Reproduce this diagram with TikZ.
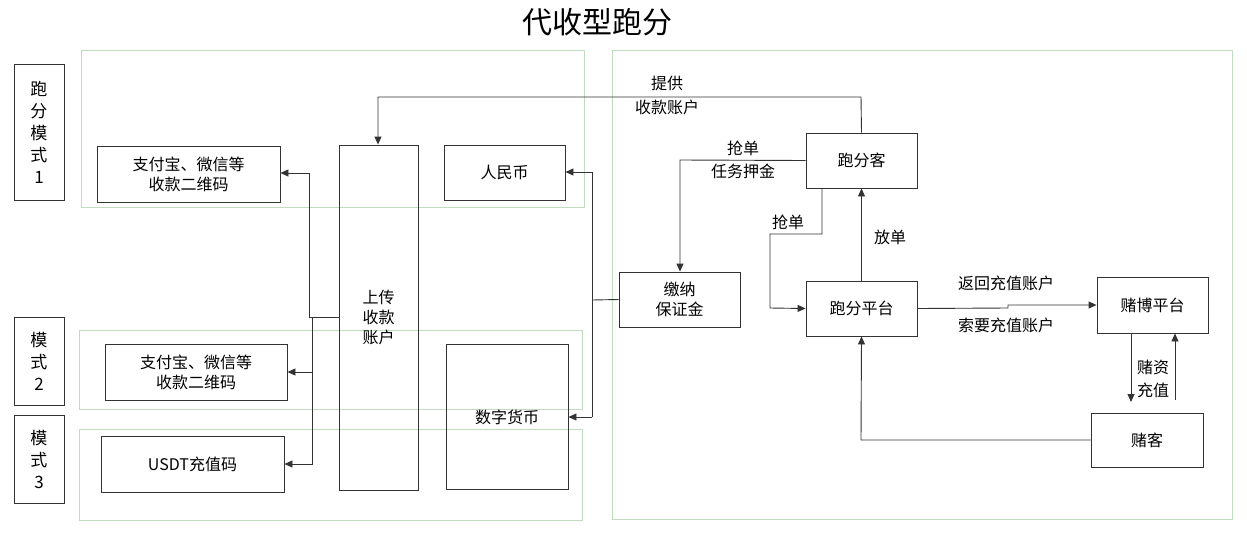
\documentclass[tikz,border=0pt]{standalone}
\usepackage{fontspec}
\setmainfont{Noto Sans CJK SC}
\usetikzlibrary{arrows.meta}
\begin{document}
\begin{tikzpicture}[x=1pt,y=-1pt,
  box/.style={draw=black!80,line width=0.9pt,align=center,inner sep=0pt,font=\fontsize{16}{20}\selectfont},
  grp/.style={draw=green!45!black!25,line width=0.8pt},
  ln/.style={draw=black!80,line width=0.9pt},
  arr/.style={ln,-{Triangle[length=8pt,width=7pt]}},
  lab/.style={align=center,inner sep=0pt,font=\fontsize{16}{20}\selectfont}]
\useasboundingbox (0,0) rectangle (1247,544);
\fill[white] (0,0) rectangle (1247,544);
\node[font=\fontsize{30}{34}\selectfont] (title) at (597,22) {代收型跑分};
% groups
\draw[grp] (81,50) rectangle (584,207);
\draw[grp] (79,330) rectangle (582,409);
\draw[grp] (79,429) rectangle (582,520);
\draw[grp] (612,50) rectangle (1232,519);
% mode labels
\node[box,minimum width=50pt,minimum height=136pt,font=\fontsize{17}{22}\selectfont] (m1) at (39,132) {跑\\分\\模\\式\\1};
\node[box,minimum width=50pt,minimum height=88pt,font=\fontsize{17}{22}\selectfont] (m2) at (39,361) {模\\式\\2};
\node[box,minimum width=50pt,minimum height=88pt,font=\fontsize{17}{22}\selectfont] (m3) at (39,459) {模\\式\\3};
% left boxes
\node[box,minimum width=183pt,minimum height=56pt] (zf1) at (188.5,174) {支付宝、微信等\\收款二维码};
\node[box,minimum width=182pt,minimum height=56pt] (zf2) at (196,372) {支付宝、微信等\\收款二维码};
\node[box,minimum width=183pt,minimum height=56pt] (usdt) at (192.5,464) {USDT充值码};
\node[box,minimum width=79pt,minimum height=345pt] (up) at (378.5,317.5) {上传\\收款\\账户};
\node[box,minimum width=121pt,minimum height=55pt] (rmb) at (504.5,172.5) {人民币};
\node[box,minimum width=122pt,minimum height=145pt,text depth=0pt] (dc) at (507,416.5) {};
\node[lab] (dct) at (507,417) {数字货币};
% right boxes
\node[box,minimum width=111pt,minimum height=55pt] (pfk) at (861.5,160.5) {跑分客};
\node[box,minimum width=121pt,minimum height=55pt] (bzj) at (679.5,299.5) {缴纳\\保证金};
\node[box,minimum width=111pt,minimum height=55pt] (pfpt) at (861.5,308.5) {跑分平台};
\node[box,minimum width=111pt,minimum height=56pt] (dbpt) at (1152.5,305) {赌博平台};
\node[box,minimum width=112pt,minimum height=54pt] (dk) at (1147,440) {赌客};
% left connectors
\coordinate (j1) at (309,317);
\coordinate (j2) at (312,317);
\draw[ln] (up.west|-j1) -- (j1);
\draw[arr] (j1) -- (309,173) -- (zf1.east|-0,173);
\draw[arr] (j2) -- (312,464) -- (usdt.east|-0,464);
\draw[arr] (312,372) -- (zf2.east|-0,372);
% right trunk
\coordinate (j3) at (592,300);
\draw[ln] (bzj.west) -- (j3);
\draw[arr] (592,172) -- (rmb.east|-0,172);
\draw[ln] (592,172) -- (592,417);
\draw[arr] (592,417) -- (dc.east|-0,417);
% top line
\draw[arr] (pfk.north) -- (861,97) -- (378,97) -- (up.north-|378,0);
\node[lab] at (667,83) {提供};
\node[lab] at (667,107) {收款账户};
% deposit
\draw[arr] (pfk.west) -- (680,160) -- (bzj.north-|680,0);
\node[lab] at (743,148) {抢单};
\node[lab] at (743,171) {任务押金};
% grab order
\draw[arr] (pfk.south-|822,0) -- (822,234) -- (770,234) -- (770,308) -- (pfpt.west);
\node[lab] at (788,222) {抢单};
% release
\draw[arr] (pfpt.north) -- (pfk.south);
\node[lab] at (890,237) {放单};
% to gambling platform
\draw[arr] (pfpt.east) -- (1008,308) -- (1008,305) -- (dbpt.west);
\node[lab] at (1006,283) {返回充值账户};
\node[lab] at (1006,325) {索要充值账户};
% gambler
\draw[arr] (dk.west) -- (861,440) -- (pfpt.south);
\draw[arr] (dbpt.south-|1131,0) -- (1131,402);
\draw[arr] (1175,400) -- (dbpt.south-|1175,0);
\node[lab] at (1153,367) {赌资};
\node[lab] at (1153,390) {充值};
\end{tikzpicture}
\end{document}
